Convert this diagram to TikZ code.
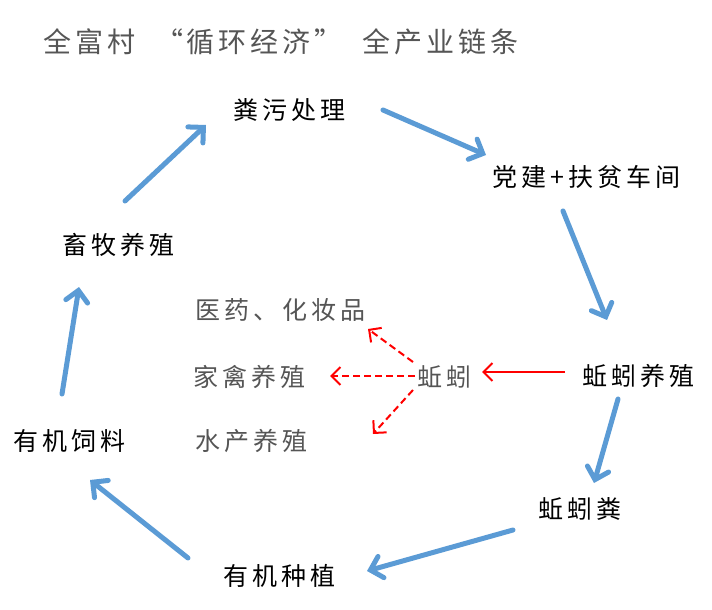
\documentclass[tikz,border=0pt]{standalone}
\usepackage{fontspec}
\setmainfont{Noto Sans CJK SC}
\newfontfamily\cnfont[LetterSpace=16]{Noto Sans CJK SC}
\newfontfamily\titlefont[LetterSpace=14]{Noto Sans CJK SC}
\usepackage{xcolor}
\usetikzlibrary{arrows.meta}
\definecolor{flowblue}{RGB}{91,155,213}
\definecolor{txtgray}{RGB}{85,85,85}
\tikzset{stage/.style={anchor=west, inner sep=0pt, font={\cnfont\fontsize{25}{30}\selectfont}},
  sidelbl/.style={stage, text=txtgray},
  flow/.style={draw=flowblue, line width=5pt, line cap=round, -{Straight Barb[length=11pt,width=22pt,line cap=round]}},
  redline/.style={draw=red, line width=2pt, -{Straight Barb[length=9pt,width=18pt]}},
  reddash/.style={redline, dash pattern=on 7pt off 4pt}}

\begin{document}
\begin{tikzpicture}[x=1pt, y=-1pt]
  \useasboundingbox (0, 0) rectangle (712, 610);
  \node[anchor=west, inner sep=0pt, text=txtgray, font={\titlefont\fontsize{28}{32}\selectfont}] (title) at (43, 42) {全富村\hspace{20pt}“循环经济”\hspace{20pt}全产业链条};

  \node[stage] (fenwu) at (233, 110) {粪污处理};
  \node[stage] (dangjian) at (492, 177) {党建+扶贫车间};
  \node[stage] (xumu) at (62, 245) {畜牧养殖};
  \node[stage] (yangzhi) at (582, 376) {蚯蚓养殖};
  \node[stage] (fen) at (538, 509) {蚯蚓粪};
  \node[stage] (zhongzhi) at (223, 576) {有机种植};
  \node[stage] (siliao) at (13, 441) {有机饲料};

  \node[sidelbl] (yiyao) at (195, 310) {医药、化妆品};
  \node[sidelbl] (jiaqin) at (193, 377) {家禽养殖};
  \node[sidelbl] (shuichan) at (195, 441) {水产养殖};
  \node[sidelbl] (qiuyin) at (417, 377) {蚯蚓};

  % main cycle
  \draw[flow] ([shift={(63,-44)}]xumu.west) -- ([shift={(-27,15)}]fenwu.west);
  \draw[flow] ([shift={(150,0)}]fenwu.west) -- ([shift={(-6,-22)}]dangjian.west);
  \draw[flow] ([shift={(71,34)}]dangjian.west) -- ([shift={(25,-56)}]yangzhi.west);
  \draw[flow] ([shift={(36,23)}]yangzhi.west) -- ([shift={(56,-26)}]fen.west);
  \draw[flow] ([shift={(-25,21)}]fen.west) -- ([shift={(144,-5)}]zhongzhi.west);
  \draw[flow] ([shift={(-35,-18)}]zhongzhi.west) -- ([shift={(77,39)}]siliao.west);
  \draw[flow] ([shift={(49,-47)}]siliao.west) -- ([shift={(17,42)}]xumu.west);

  % earthworm uses
  \draw[redline] ([shift={(-17,-4)}]yangzhi.west) -- ([shift={(65,-5)}]qiuyin.west);
  \draw[reddash] ([shift={(-4,-15)}]qiuyin.west) -- ([shift={(173,19)}]yiyao.west);
  \draw[reddash] ([shift={(-2,-1)}]qiuyin.west) -- ([shift={(137,-1)}]jiaqin.west);
  \draw[reddash] ([shift={(-4,13)}]qiuyin.west) -- ([shift={(178,-7)}]shuichan.west);
\end{tikzpicture}
\end{document}
